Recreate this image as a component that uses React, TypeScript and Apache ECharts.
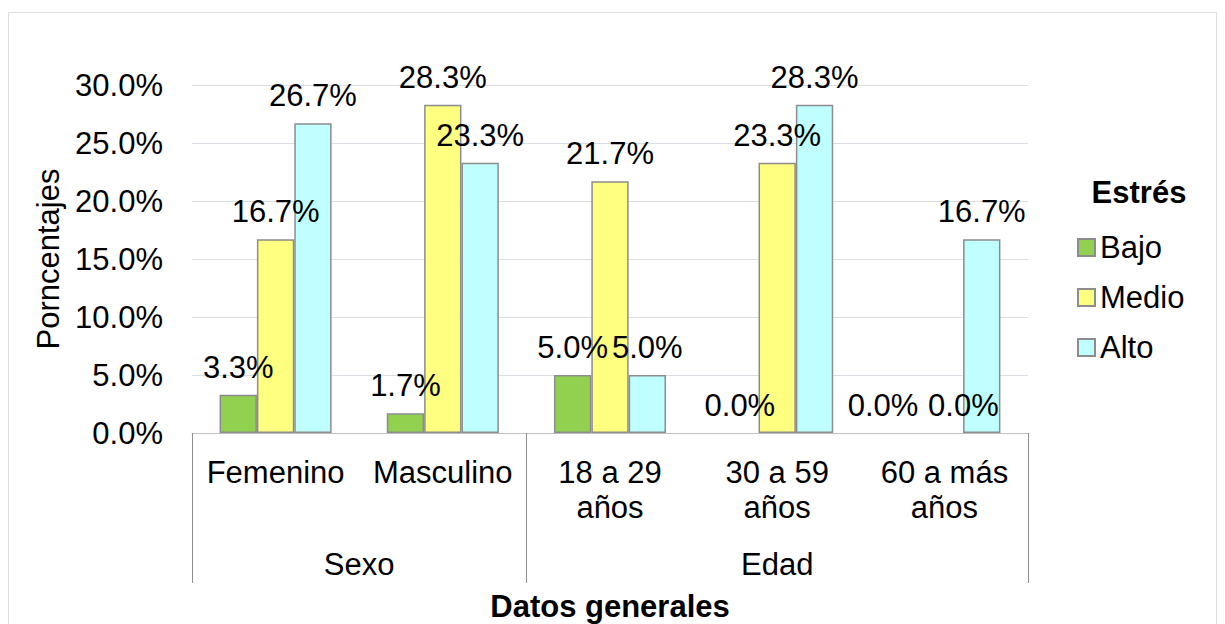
import React, { useEffect, useRef } from "react";
import * as echarts from "echarts";

const categories = ["Femenino", "Masculino", "18 a 29\naños", "30 a 59\naños", "60 a más\naños"];
const groupNames = ["Sexo", "Edad"];
const groupSpans = [2, 3];
const seriesNames = ["Bajo", "Medio", "Alto"];
const bajo = [3.3, 1.7, 5.0, 0.0, 0.0];
const medio = [16.7, 28.3, 21.7, 23.3, 0.0];
const alto = [26.7, 23.3, 5.0, 28.3, 16.7];
const yMax = 30;
const yInterval = 5;

const FONT = "'Liberation Sans', Arial, sans-serif";
const colors = ["#92D050", "#FFFF80", "#C0FFFF"];
// manually nudged data labels (series index, category index, [dx, dy])
const labelNudges: [number, number, [number, number]][] = [
  [0, 4, [-24, 0]],
  [1, 4, [19, 0]],
];

export default function App() {
  const ref = useRef<HTMLDivElement>(null);
  useEffect(() => {
    if (!ref.current) return;
    document.documentElement.style.overflow = "hidden";
    const chart = echarts.init(ref.current, undefined, { renderer: "svg" });

    const boundaries: number[] = [0];
    const centers: number[] = [];
    let acc = 0;
    groupSpans.forEach((s) => {
      centers.push(acc + s / 2);
      acc += s;
      boundaries.push(acc);
    });

    const values = [bajo, medio, alto];
    const labelStyle = { fontFamily: FONT, fontSize: 31, color: "#000" };

    chart.setOption({
      animation: false,
      backgroundColor: "#fff",
      textStyle: { fontFamily: FONT },
      grid: { left: 184, right: 189, top: 77, bottom: 191, containLabel: false, outerBoundsMode: "none" },
      graphic: [
        {
          type: "rect",
          shape: { x: 0.5, y: 4.5, width: 1208, height: 700 },
          style: { fill: "none", stroke: "#D9DEE4", lineWidth: 1 },
          silent: true,
        },
        {
          type: "text",
          x: 1131,
          y: 184,
          style: {
            text: "Estrés",
            font: `bold 31px ${FONT}`,
            fill: "#000",
            textAlign: "center",
            textVerticalAlign: "middle",
          },
        },
      ],
      legend: {
        orient: "vertical",
        left: 1064,
        top: 219,
        itemWidth: 17,
        itemHeight: 17,
        itemGap: 19,
        icon: "rect",
        textStyle: { ...labelStyle },
        data: seriesNames,
      },
      xAxis: [
        {
          type: "category",
          data: categories,
          position: "bottom",
          name: "Datos generales",
          nameLocation: "middle",
          nameGap: 158,
          nameTextStyle: { fontFamily: FONT, fontSize: 31, fontWeight: "bold", color: "#000" },
          axisLine: { show: true, lineStyle: { color: "#BFBFBF", width: 1 } },
          axisTick: { show: false },
          axisLabel: { ...labelStyle, interval: 0, margin: 22, lineHeight: 35, verticalAlign: "top" },
          splitLine: { show: false },
        },
        {
          type: "value",
          min: 0,
          max: acc,
          position: "bottom",
          axisLine: { show: false },
          splitLine: { show: false },
          axisTick: {
            show: true,
            customValues: boundaries,
            length: 150,
            lineStyle: { color: "#8E8E8E", width: 1 },
          },
          axisLabel: {
            ...labelStyle,
            customValues: centers,
            margin: 114,
            lineHeight: 35,
            verticalAlign: "top",
            formatter: (v: number) => {
              const i = centers.findIndex((c) => Math.abs(c - v) < 1e-6);
              return i >= 0 ? groupNames[i] : "";
            },
          },
        },
      ],
      yAxis: {
        type: "value",
        min: 0,
        max: yMax,
        interval: yInterval,
        name: "Porncentajes",
        nameLocation: "middle",
        nameRotate: 90,
        nameGap: 127,
        nameTextStyle: { fontFamily: FONT, fontSize: 31, color: "#000" },
        axisLine: { show: false },
        axisTick: { show: false },
        axisLabel: { ...labelStyle, margin: 29, formatter: (v: number) => v.toFixed(1) + "%" },
        splitLine: { show: true, lineStyle: { color: "#D9DEE4", width: 1 } },
      },
      series: seriesNames.map((name, i) => ({
        name,
        type: "bar",
        xAxisIndex: 0,
        yAxisIndex: 0,
        data: values[i].map((v, j) => {
          const item: any = { value: v };
          if (v === 0) item.itemStyle = { borderWidth: 0 };
          const n = labelNudges.find((e) => e[0] === i && e[1] === j);
          if (n) item.label = { offset: n[2] };
          return item;
        }),
        barGap: "0%",
        barCategoryGap: "33%",
        itemStyle: { color: colors[i], borderColor: "#8C8C8C", borderWidth: 1.5 },
        label: {
          show: true,
          position: "top",
          distance: 12,
          ...labelStyle,
          formatter: (p: any) => Number(p.value).toFixed(1) + "%",
        },
      })),
    });
    return () => chart.dispose();
  }, []);
  return <div ref={ref} style={{ width: 1209, height: 616 }} />;
}
